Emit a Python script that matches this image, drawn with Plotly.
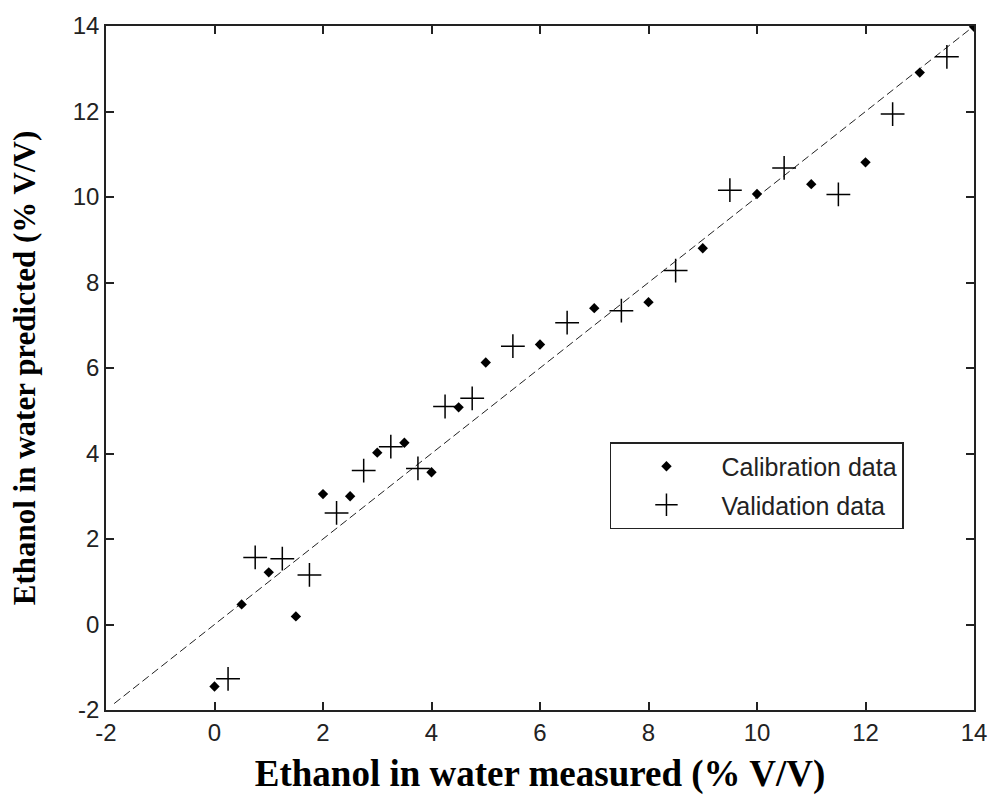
import plotly.graph_objects as go

# Calibration set: measured vs predicted ethanol (% V/V)
cal_measured = [0, 0.5, 1, 1.5, 2, 2.5, 3, 3.5, 4, 4.5, 5, 6, 7, 8, 9, 10, 11, 12, 13, 14]
cal_predicted = [-1.45, 0.47, 1.22, 0.19, 3.05, 3.0, 4.02, 4.25, 3.56, 5.08, 6.13, 6.55,
                 7.40, 7.54, 8.80, 10.07, 10.30, 10.81, 12.91, 13.98]

# Validation set
val_measured = [0.25, 0.75, 1.25, 1.75, 2.25, 2.75, 3.25, 3.75, 4.25, 4.75, 5.5, 6.5,
                7.5, 8.5, 9.5, 10.5, 11.5, 12.5, 13.5]
val_predicted = [-1.27, 1.57, 1.54, 1.16, 2.61, 3.60, 4.16, 3.65, 5.10, 5.29, 6.51, 7.06,
                 7.34, 8.28, 10.16, 10.68, 10.06, 11.94, 13.28]

# Ideal agreement line
line_x = [-1.85, 14]
line_y = [-1.85, 14]

tick_vals = [-2, 0, 2, 4, 6, 8, 10, 12, 14]
tick_text = ["-2", "0", "2", "4", "6", "8", "10", "12", "14"]

fig = go.Figure()

fig.add_trace(go.Scatter(
    x=line_x, y=line_y, mode="lines",
    line=dict(color="#222222", width=1, dash="8px,4px"),
    showlegend=False, hoverinfo="skip",
))

fig.add_trace(go.Scatter(
    x=cal_measured, y=cal_predicted, mode="markers", name="Calibration data",
    legendgroup="cal",
    marker=dict(symbol="diamond", size=8, color="black"),
))

fig.add_trace(go.Scatter(
    x=val_measured, y=val_predicted, mode="markers", name="Validation data",
    legendgroup="val",
    marker=dict(symbol="cross-thin", size=17, color="black",
                line=dict(color="black", width=1.5)),
))

axis_common = dict(
    range=[-2, 14], tickvals=tick_vals, ticktext=tick_text,
    ticks="inside", ticklen=8, tickwidth=1.5, tickcolor="#222222",
    showline=True, linewidth=1.5, linecolor="#222222", mirror="ticks",
    showgrid=False, zeroline=False, automargin=False,
    tickfont=dict(family="Liberation Sans, Arial, sans-serif", size=24, color="#222222"),
)

fig.update_layout(
    width=992, height=795,
    margin=dict(l=106, r=18, t=26, b=85),
    paper_bgcolor="white", plot_bgcolor="white",
    xaxis=dict(
        **axis_common,
        title=dict(text="<b>Ethanol in water measured (% V/V)</b>", standoff=17,
                   font=dict(family="Liberation Serif, Times New Roman, serif",
                             size=37, color="black")),
    ),
    yaxis=dict(
        **axis_common,
        title=dict(text="<b>Ethanol in water predicted (% V/V)</b>", standoff=28,
                   font=dict(family="Liberation Serif, Times New Roman, serif",
                             size=31, color="black")),
    ),
    legend=dict(
        x=0.5806, y=0.3918, xanchor="left", yanchor="top",
        bgcolor="white", bordercolor="#222222", borderwidth=1.5,
        itemwidth=100, traceorder="grouped", tracegroupgap=3,
        font=dict(family="Liberation Sans, Arial, sans-serif", size=25, color="#222222"),
    ),
)

fig.write_html("out.html")
